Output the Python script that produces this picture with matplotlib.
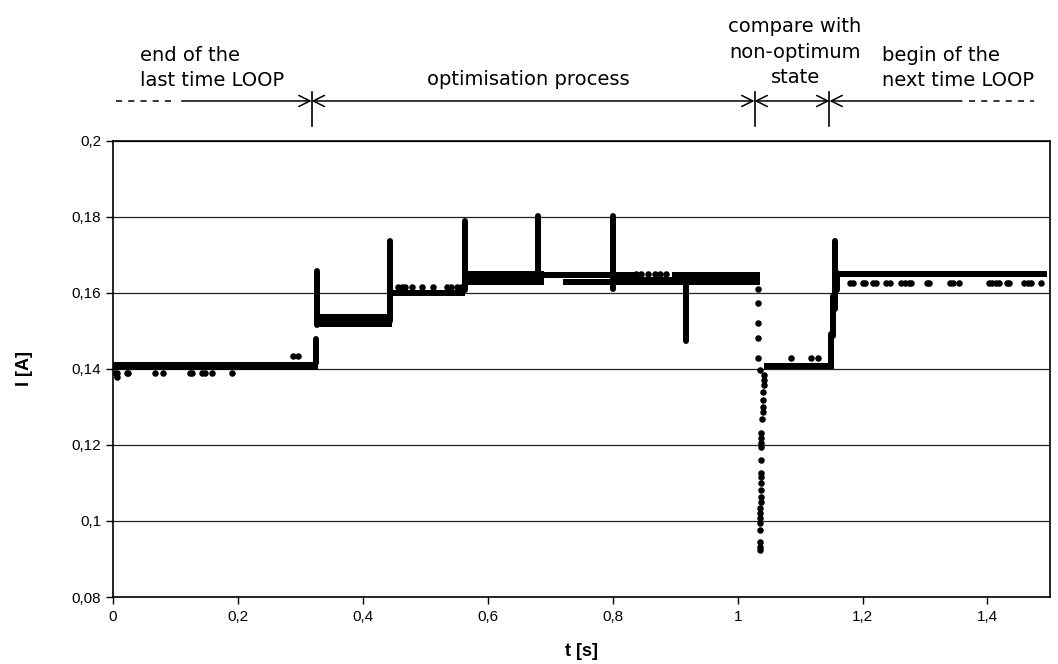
import matplotlib
matplotlib.use('Agg')
import matplotlib.pyplot as plt
import numpy as np

# steady levels (dense dots drawn as bands)
plateau_t0 = [0.000, 0.327, 0.446, 0.563, 0.688, 0.720, 0.800, 0.800, 0.895, 1.043, 1.158]
plateau_t1 = [0.328, 0.446, 0.563, 0.690, 0.800, 0.800, 0.835, 0.895, 1.035, 1.155, 1.495]
plateau_lo = [0.1398, 0.1510, 0.1592, 0.1620, 0.1640, 0.1620, 0.1620, 0.1620, 0.1620, 0.1401, 0.1641]
plateau_hi = [0.1418, 0.1546, 0.1607, 0.1657, 0.1655, 0.1637, 0.1655, 0.1643, 0.1655, 0.1416, 0.1657]

# vertical columns of dots (spikes / transitions)
spike_t = [0.325, 0.327, 0.444, 0.564, 0.681, 0.800, 0.918, 1.149, 1.153, 1.156, 1.159]
spike_lo = [0.1410, 0.1510, 0.1520, 0.1600, 0.1640, 0.1603, 0.1466, 0.1410, 0.1480, 0.1550, 0.1600]
spike_hi = [0.1487, 0.1666, 0.1744, 0.1797, 0.1810, 0.1810, 0.1640, 0.1500, 0.1600, 0.1745, 0.1660]

# single scattered dots
dot_t = [0.003, 0.006, 0.006, 0.022, 0.024, 0.067, 0.080, 0.123, 0.126, 0.142, 0.147, 0.158, 0.190,
         0.288, 0.296,
         0.457, 0.462, 0.467, 0.479, 0.495, 0.512, 0.535, 0.541, 0.551, 0.557,
         0.837, 0.845, 0.856, 0.867, 0.875, 0.885,
         1.033, 1.033, 1.033, 1.033, 1.033,
         1.035, 1.043, 1.042, 1.042, 1.040, 1.041, 1.040, 1.040, 1.039, 1.038, 1.038, 1.038, 1.038,
         1.038, 1.037, 1.037, 1.037, 1.037, 1.037, 1.037, 1.036, 1.036, 1.036, 1.035, 1.035, 1.036,
         1.036, 1.036,
         1.085, 1.118, 1.128,
         1.180, 1.184, 1.200, 1.204, 1.216, 1.221, 1.238, 1.244, 1.262, 1.268, 1.274, 1.278, 1.303,
         1.306, 1.340, 1.345, 1.354, 1.403, 1.408, 1.414, 1.418, 1.431, 1.435, 1.459, 1.465, 1.470,
         1.486]
dot_i = [0.1389, 0.1389, 0.1380, 0.1389, 0.1389, 0.1389, 0.1389, 0.1389, 0.1389, 0.1389, 0.1389,
         0.1389, 0.1389,
         0.1434, 0.1434,
         0.1617, 0.1617, 0.1617, 0.1617, 0.1617, 0.1617, 0.1617, 0.1617, 0.1617, 0.1617,
         0.1650, 0.1650, 0.1650, 0.1650, 0.1650, 0.1650,
         0.1610, 0.1573, 0.1520, 0.1481, 0.1428,
         0.1397, 0.1384, 0.1371, 0.1358, 0.1340, 0.1318, 0.1301, 0.1288, 0.1268, 0.1231, 0.1218,
         0.1204, 0.1196, 0.1161, 0.1126, 0.1117, 0.1099, 0.1082, 0.1064, 0.1051, 0.1033, 0.1020,
         0.1007, 0.0994, 0.0976, 0.0946, 0.0932, 0.0924,
         0.1428, 0.1428, 0.1428,
         0.1626, 0.1626, 0.1626, 0.1626, 0.1626, 0.1626, 0.1626, 0.1626, 0.1626, 0.1626, 0.1626,
         0.1626, 0.1626, 0.1626, 0.1626, 0.1626, 0.1626, 0.1626, 0.1626, 0.1626, 0.1626, 0.1626,
         0.1626, 0.1626, 0.1626, 0.1626, 0.1626]

x_ticks = [0, 0.2, 0.4, 0.6, 0.8, 1.0, 1.2, 1.4]
x_labels = ['0', '0,2', '0,4', '0,6', '0,8', '1', '1,2', '1,4']
y_ticks = [0.08, 0.10, 0.12, 0.14, 0.16, 0.18, 0.20]
y_labels = ['0,08', '0,1', '0,12', '0,14', '0,16', '0,18', '0,2']

# phase separators and annotation texts
sep_t = [0.318, 1.027, 1.147]
phase_text = ['end of the\nlast time LOOP', 'optimisation process',
              'compare with\nnon-optimum\nstate', 'begin of the\nnext time LOOP']

plt.rcParams['font.family'] = ['Liberation Sans', 'DejaVu Sans']

fig = plt.figure(figsize=(10.58, 6.64), dpi=100)
ax = fig.add_axes([0.1068, 0.1009, 0.8856, 0.6868])

for t0, t1, lo, hi in zip(plateau_t0, plateau_t1, plateau_lo, plateau_hi):
    ax.fill_between([t0, t1], [lo, lo], [hi, hi], color='black', lw=0, zorder=3)

sp = ax.vlines(spike_t, np.array(spike_lo) + 0.0007, np.array(spike_hi) - 0.0007,
               color='black', lw=4.3, zorder=3)
sp.set_capstyle('round')

ax.scatter(dot_t, dot_i, s=22, color='black', lw=0, zorder=3)

ax.set_xlim(0, 1.5)
ax.set_ylim(0.08, 0.2)
ax.set_xticks(x_ticks)
ax.set_xticklabels(x_labels)
ax.set_yticks(y_ticks)
ax.set_yticklabels(y_labels)
ax.tick_params(axis='both', labelsize=11, direction='out', length=5, width=1, color='black')
ax.tick_params(axis='x', pad=4)
ax.yaxis.grid(True, color='#202020', lw=0.9)
ax.set_axisbelow(True)
for s in ax.spines.values():
    s.set_linewidth(1.2)
    s.set_color('black')

ax.set_xlabel('t [s]', fontsize=13, fontweight='bold', labelpad=14)
ax.set_ylabel('I [A]', fontsize=13, fontweight='bold', labelpad=28)

# phase bar above the plot
tr = ax.get_xaxis_transform()
yl = 1.0877
for s in sep_t:
    ax.plot([s, s], [1.033, 1.107], transform=tr, color='black', lw=1.2, clip_on=False)
arrow_kw = dict(lw=1.1, color='black', shrinkA=0, shrinkB=0, mutation_scale=20)
ax.annotate('', xy=(sep_t[0], yl), xytext=(0.110, yl), xycoords=tr, textcoords=tr,
            arrowprops=dict(arrowstyle='->,head_length=0.4,head_width=0.2', **arrow_kw))
ax.annotate('', xy=(sep_t[1], yl), xytext=(sep_t[0], yl), xycoords=tr, textcoords=tr,
            arrowprops=dict(arrowstyle='<->,head_length=0.4,head_width=0.2', **arrow_kw))
ax.annotate('', xy=(sep_t[2], yl), xytext=(sep_t[1], yl), xycoords=tr, textcoords=tr,
            arrowprops=dict(arrowstyle='<->,head_length=0.4,head_width=0.2', **arrow_kw))
ax.annotate('', xy=(sep_t[2], yl), xytext=(1.359, yl), xycoords=tr, textcoords=tr,
            arrowprops=dict(arrowstyle='->,head_length=0.4,head_width=0.2', **arrow_kw))
ax.plot([0.005, 0.099], [yl, yl], transform=tr, color='black', lw=1.1, ls=(0, (4, 4)), clip_on=False)
ax.plot([1.370, 1.474], [yl, yl], transform=tr, color='black', lw=1.1, ls=(0, (4, 4)), clip_on=False)

tkw = dict(transform=tr, fontsize=14, family=['DejaVu Sans'], linespacing=1.45, va='center')
ax.text(0.043, 1.160, phase_text[0], ha='left', **tkw)
ax.text(0.665, 1.134, phase_text[1], ha='center', **tkw)
ax.text(1.092, 1.195, phase_text[2], ha='center', multialignment='center', **tkw)
ax.text(1.231, 1.160, phase_text[3], ha='left', **tkw)

fig.savefig('out.png', dpi=100)
